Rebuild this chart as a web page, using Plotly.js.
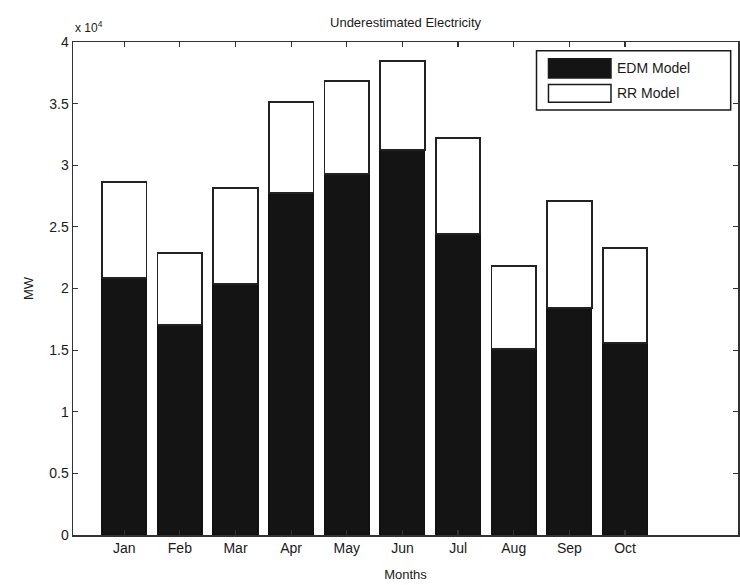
<!DOCTYPE html>
<html>
<head>
<meta charset="utf-8">
<script src="https://cdn.plot.ly/plotly-3.0.1.min.js"></script>
<style>html,body{margin:0;padding:0;background:#fff;}#chart{width:740px;height:585px;}</style>
</head>
<body>
<div id="chart"></div>
<script>
// ---- data (MW) ----
const months = ["Jan","Feb","Mar","Apr","May","Jun","Jul","Aug","Sep","Oct"];
const seriesNames = ["EDM Model","RR Model"];
const edmValues = [20880, 17010, 20340, 27720, 29290, 31240, 24420, 15120, 18390, 15600];
const rrValues  = [7790, 5890, 7840, 7390, 7570, 7240, 7770, 6730, 8730, 7660];
const yTickVals = [0, 5000, 10000, 15000, 20000, 25000, 30000, 35000, 40000];
const yTickText = ["0","0.5","1","1.5","2","2.5","3","3.5","4"];

const fontFam = "Liberation Sans, Arial, sans-serif";
const ink = "#1a1a1a";

const traces = [
  {type:"bar", name:seriesNames[0], x:months, y:edmValues, width:0.8,
   marker:{color:"#141414", line:{color:"#111", width:1.5}}, showlegend:false, hoverinfo:"skip"},
  {type:"bar", name:seriesNames[1], x:months, y:rrValues, width:0.8,
   marker:{color:"#ffffff", line:{color:"#222", width:1.8}}, showlegend:false, hoverinfo:"skip"}
];

// legend drawn with shapes in paper coords
const lg = {x0:0.697, x1:0.989, y0:0.862, y1:0.982};
const sw = [{y0:0.927, y1:0.966, fill:"#141414"}, {y0:0.878, y1:0.914, fill:"#ffffff"}];
const shapes = [
  {type:"rect", xref:"paper", yref:"paper", x0:lg.x0, x1:lg.x1, y0:lg.y0, y1:lg.y1,
   line:{color:ink, width:1.5}, fillcolor:"#fff"}
];
const annotations = [
  {xref:"paper", yref:"paper", x:0.0, y:1.01, xanchor:"left", yanchor:"bottom",
   text:"x 10<sup>4</sup>", showarrow:false, font:{family:fontFam, size:12, color:ink}}
];
sw.forEach((s,i)=>{
  shapes.push({type:"rect", xref:"paper", yref:"paper", x0:0.715, x1:0.809, y0:s.y0, y1:s.y1,
    line:{color:ink, width:1.5}, fillcolor:s.fill});
  annotations.push({xref:"paper", yref:"paper", x:0.815, y:(s.y0+s.y1)/2, xanchor:"left", yanchor:"middle",
    text:seriesNames[i], showarrow:false, font:{family:fontFam, size:14, color:ink}});
});

const layout = {
  width:740, height:585,
  margin:{l:73, r:2, t:42, b:50},
  paper_bgcolor:"#fff", plot_bgcolor:"#fff",
  barmode:"stack", bargap:0.2,
  showlegend:false,
  font:{family:fontFam, size:13, color:ink},
  title:{text:"Underestimated Electricity", x:0.548, xanchor:"center", y:0.962, yanchor:"middle",
         font:{family:fontFam, size:13, color:ink}},
  xaxis:{type:"category", range:[-0.92, 11.03], showline:true, linecolor:"#333", linewidth:1.5,
         mirror:"ticks", ticks:"inside", ticklen:5, tickcolor:"#333", tickwidth:1.2,
         showgrid:false, zeroline:false, tickfont:{size:14},
         title:{text:"Months", standoff:14, font:{size:13}}},
  yaxis:{range:[0, 40000], tickvals:yTickVals, ticktext:yTickText, showline:true, linecolor:"#333", linewidth:1.5,
         mirror:"ticks", ticks:"inside", ticklen:5, tickcolor:"#333", tickwidth:1.2,
         showgrid:false, zeroline:false, tickfont:{size:14},
         title:{text:"MW", standoff:12, font:{size:13}}},
  shapes:shapes,
  annotations:annotations
};

Plotly.newPlot("chart", traces, layout, {displayModeBar:false, staticPlot:true});
</script>
</body>
</html>
